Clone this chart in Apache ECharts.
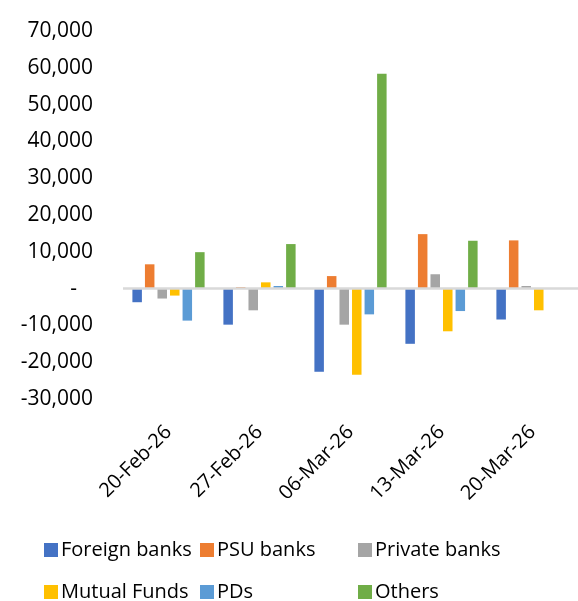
<!DOCTYPE html>
<html><head><meta charset="utf-8">
<script src="https://cdn.jsdelivr.net/npm/echarts@6/dist/echarts.min.js"></script>
<style>html,body{margin:0;padding:0;background:#fff}#c{width:578px;height:601px}</style>
</head><body><div id="c"></div>
<script>
const categories = ['20-Feb-26','27-Feb-26','06-Mar-26','13-Mar-26','20-Mar-26'];
const foreignBanks = [-3700, -9800, -22600, -15000, -8400];
const psuBanks = [6600, 400, 3400, 14800, 13100];
const privateBanks = [-2700, -5900, -9800, 3900, 700];
const mutualFunds = [-1900, 1700, -23400, -11600, -5900];
const pds = [-8700, 700, -7000, -6100, 0];
const others = [9900, 12100, 58400, 13000, 0];
const seriesNames = ['Foreign banks','PSU banks','Private banks','Mutual Funds','PDs','Others'];
const seriesData = [foreignBanks, psuBanks, privateBanks, mutualFunds, pds, others];
const colors = ['#4472C4','#ED7D31','#A5A5A5','#FFC000','#5B9BD5','#70AD47'];
const font = 'Open Sans';

const series = seriesData.map((d, i) => ({
  name: seriesNames[i], type: 'bar', data: d, barWidth: 9.5, barGap: '32%',
  itemStyle: { color: colors[i] },
  markLine: i === 0 ? { silent: true, symbol: 'none', label: { show: false },
    lineStyle: { color: '#d9d9d9', width: 2.5, type: 'solid' }, data: [{ yAxis: 0 }] } : undefined
}));

const legendLeft = [44, 200, 358, 44, 200, 358];
const legendTop = [540, 540, 540, 582, 582, 582];
const legends = seriesNames.map((n, i) => ({
  data: [n], left: legendLeft[i], top: legendTop[i], itemWidth: 14, itemHeight: 14,
  itemGap: 4, icon: 'rect', padding: 0,
  textStyle: { fontFamily: font, fontSize: 20, color: '#000', padding: [0, 0, 0, -2] }
}));

const chart = echarts.init(document.getElementById('c'));
chart.setOption({
  animation: false,
  color: colors,
  grid: { left: 123, right: -5, top: 31, height: 368 },
  legend: legends,
  xAxis: { type: 'category', data: categories, position: 'bottom',
    axisLine: { show: false }, axisTick: { show: false },
    axisLabel: { rotate: 45, margin: 30, fontFamily: font, fontSize: 20, color: '#000', interval: 0 } },
  yAxis: { type: 'value', min: -30000, max: 70000, interval: 10000,
    splitLine: { show: false }, axisLine: { show: false }, axisTick: { show: false },
    axisLabel: { margin: 30, fontFamily: font, fontSize: 21, color: '#000',
      formatter: v => v === 0 ? '{z|-}' : v.toLocaleString('en-US'),
      rich: { z: { fontFamily: font, fontSize: 21, color: '#000', padding: [0, 16, 0, 0] } } } },
  series: series
});
</script></body></html>
